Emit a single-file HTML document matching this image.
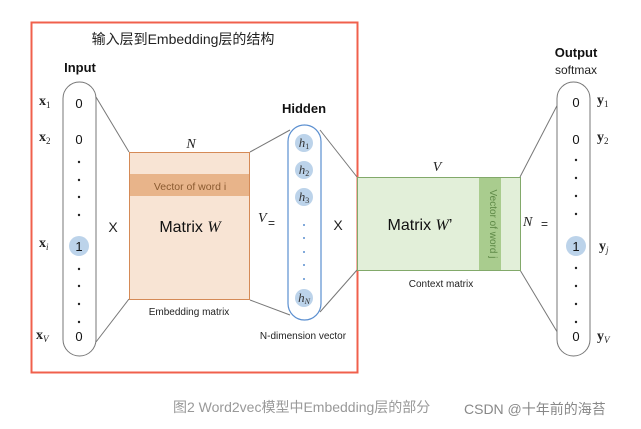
<!DOCTYPE html>
<html><head><meta charset="utf-8"><style>
html,body{margin:0;padding:0;background:#fff;width:641px;height:429px;overflow:hidden}
svg{display:block}
text{font-family:"Liberation Sans","Noto Sans CJK SC",sans-serif}
.m{font-family:"Liberation Serif",serif;font-style:italic}
.b{font-family:"Liberation Serif",serif;font-weight:bold}
</style></head><body>
<svg width="641" height="429" viewBox="0 0 641 429" xmlns="http://www.w3.org/2000/svg">
<rect x="31.5" y="22.5" width="326" height="350" fill="none" stroke="#f0604c" stroke-width="2"/>
<text x="183" y="44" font-size="14" text-anchor="middle" fill="#222">输入层到Embedding层的结构</text>
<text x="80" y="72" font-size="13" font-weight="bold" text-anchor="middle" fill="#111">Input</text>
<g stroke="#777" stroke-width="1" fill="none">
<line x1="96" y1="97" x2="129" y2="152"/><line x1="96" y1="342" x2="129" y2="299"/>
<line x1="250" y1="152" x2="290" y2="130"/><line x1="250" y1="300" x2="290" y2="315"/>
<line x1="320" y1="130" x2="357" y2="177"/><line x1="320" y1="312" x2="357" y2="270"/>
<line x1="520" y1="177" x2="562" y2="96"/><line x1="520" y1="270" x2="562" y2="340"/>
</g>
<rect x="63" y="82" width="33" height="274" rx="16.5" fill="#fff" stroke="#777"/>
<g font-size="13" text-anchor="middle" fill="#111">
<text x="79" y="108">0</text><text x="79" y="144">0</text>
<circle cx="79" cy="246" r="10" fill="#bcd3ea"/><text x="79" y="251">1</text>
<text x="79" y="341">0</text></g>
<g fill="#222"><circle cx="79" cy="162" r="1.2"/><circle cx="79" cy="180" r="1.2"/><circle cx="79" cy="197" r="1.2"/><circle cx="79" cy="215" r="1.2"/>
<circle cx="79" cy="269" r="1.2"/><circle cx="79" cy="286" r="1.2"/><circle cx="79" cy="304" r="1.2"/><circle cx="79" cy="322" r="1.2"/></g>
<g font-size="14" fill="#222"><text class="b" x="39" y="105">x<tspan font-size="9" font-weight="normal" dy="3">1</tspan></text>
<text class="b" x="39" y="141">x<tspan font-size="9" font-weight="normal" dy="3">2</tspan></text>
<text class="b" x="39" y="247">x<tspan font-size="9" font-style="italic" font-weight="normal" dy="3">i</tspan></text>
<text class="b" x="36" y="339">x<tspan font-size="9" font-style="italic" font-weight="normal" dy="3">V</tspan></text></g>
<text x="113" y="232" font-size="14" text-anchor="middle" fill="#222">X</text>
<text class="m" x="191" y="148" font-size="14" text-anchor="middle" fill="#222">N</text>
<rect x="129.5" y="152.5" width="120" height="147" fill="#f8e4d4" stroke="#d58a56"/>
<rect x="130" y="174" width="119" height="22" fill="#e8b48a"/>
<text x="190" y="190" font-size="10.5" text-anchor="middle" fill="#8a5a30">Vector of word i</text>
<text x="190" y="232" font-size="16" text-anchor="middle" fill="#111">Matrix <tspan class="m">W</tspan></text>
<text x="189" y="315" font-size="10" text-anchor="middle" fill="#222">Embedding matrix</text>
<text class="m" x="258" y="222" font-size="14" fill="#222">V</text><text x="268" y="227" font-size="12" fill="#222">=</text>
<text x="304" y="113" font-size="13" font-weight="bold" text-anchor="middle" fill="#111">Hidden</text>
<rect x="288" y="125" width="33" height="195" rx="16.5" fill="#fff" stroke="#5b8fd0" stroke-width="1.2"/>
<g fill="#bcd3ea"><circle cx="304" cy="143" r="9"/><circle cx="304" cy="170" r="9"/><circle cx="304" cy="197" r="9"/><circle cx="304" cy="298" r="9"/></g>
<g font-size="13" fill="#333" text-anchor="middle"><text x="304" y="147" class="m">h<tspan font-size="8" font-style="normal" dy="2">1</tspan></text>
<text x="304" y="174" class="m">h<tspan font-size="8" font-style="normal" dy="2">2</tspan></text>
<text x="304" y="201" class="m">h<tspan font-size="8" font-style="normal" dy="2">3</tspan></text>
<text x="304" y="302" class="m">h<tspan font-size="8" dy="2">N</tspan></text></g>
<g fill="#5b8fd0"><circle cx="304" cy="225" r="1"/><circle cx="304" cy="238" r="1"/><circle cx="304" cy="252" r="1"/><circle cx="304" cy="265" r="1"/><circle cx="304" cy="279" r="1"/></g>
<text x="303" y="339" font-size="10" text-anchor="middle" fill="#222">N-dimension vector</text>
<text x="338" y="230" font-size="14" text-anchor="middle" fill="#222">X</text>
<text class="m" x="437" y="171" font-size="14" text-anchor="middle" fill="#222">V</text>
<rect x="357.5" y="177.5" width="163" height="93" fill="#e2efd9" stroke="#82a96a"/>
<rect x="479" y="178" width="22" height="92" fill="#a9cc8e"/>
<text x="490" y="224" font-size="10" text-anchor="middle" fill="#5f8a48" transform="rotate(90 490 224)">Vector of word j</text>
<text x="420" y="230" font-size="16" text-anchor="middle" fill="#111">Matrix <tspan class="m">W</tspan>’</text>
<text x="441" y="287" font-size="10" text-anchor="middle" fill="#222">Context matrix</text>
<text class="m" x="523" y="226" font-size="14" fill="#222">N</text><text x="541" y="228" font-size="12" fill="#222">=</text>
<text x="576" y="57" font-size="13" font-weight="bold" text-anchor="middle" fill="#111">Output</text>
<text x="576" y="74" font-size="12" text-anchor="middle" fill="#222">softmax</text>
<rect x="557" y="82" width="33" height="274" rx="16.5" fill="#fff" stroke="#777"/>
<g font-size="13" text-anchor="middle" fill="#111">
<text x="576" y="107">0</text><text x="576" y="144">0</text>
<circle cx="576" cy="246" r="10" fill="#bcd3ea"/><text x="576" y="251">1</text>
<text x="576" y="341">0</text></g>
<g fill="#222"><circle cx="576" cy="160" r="1.2"/><circle cx="576" cy="178" r="1.2"/><circle cx="576" cy="196" r="1.2"/><circle cx="576" cy="214" r="1.2"/>
<circle cx="576" cy="268" r="1.2"/><circle cx="576" cy="286" r="1.2"/><circle cx="576" cy="304" r="1.2"/><circle cx="576" cy="322" r="1.2"/></g>
<g font-size="14" fill="#222"><text class="b" x="597" y="104">y<tspan font-size="9" font-weight="normal" dy="3">1</tspan></text>
<text class="b" x="597" y="141">y<tspan font-size="9" font-weight="normal" dy="3">2</tspan></text>
<text class="b" x="599" y="250">y<tspan font-size="9" font-style="italic" font-weight="normal" dy="3">j</tspan></text>
<text class="b" x="597" y="340">y<tspan font-size="9" font-style="italic" font-weight="normal" dy="3">V</tspan></text></g>
<text x="173" y="412" font-size="14" fill="#999">图2 Word2vec模型中Embedding层的部分</text>
<text x="464" y="414" font-size="14" fill="#888">CSDN @十年前的海苔</text>
</svg>
</body></html>
